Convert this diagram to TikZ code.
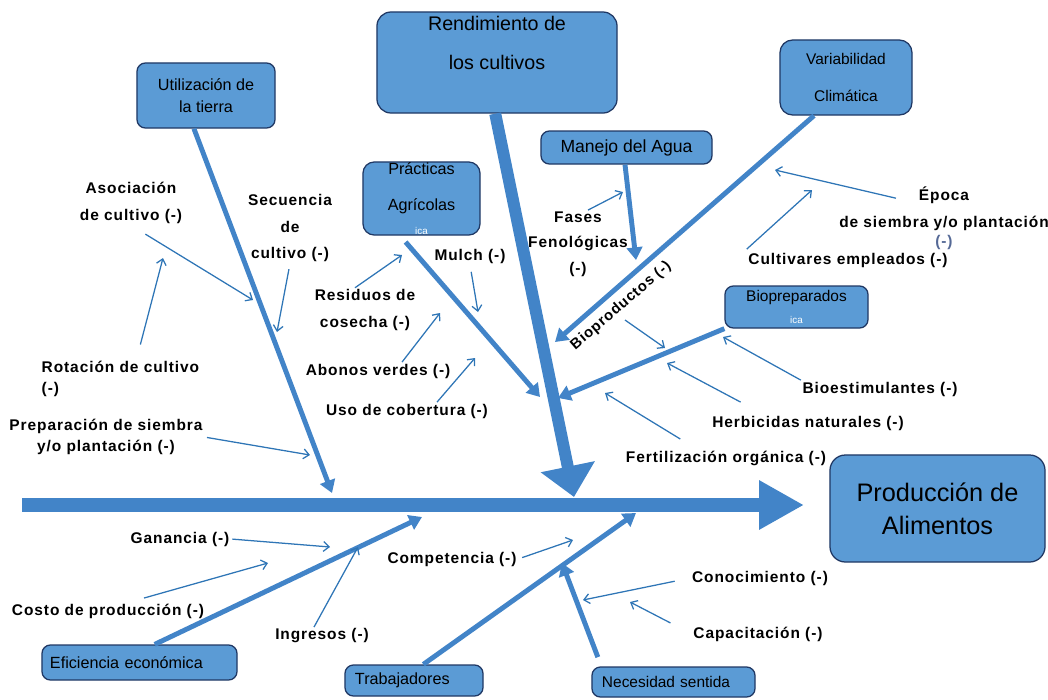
\documentclass[tikz,border=0pt]{standalone}
\usepackage{fontspec}
\setmainfont{Liberation Sans}
\newfontfamily\lblfont[LetterSpace=6]{Liberation Sans}
\usetikzlibrary{arrows.meta}
\definecolor{boxblue}{RGB}{91,155,213}
\definecolor{boxline}{RGB}{32,56,100}
\definecolor{bonecol}{RGB}{66,132,200}
\definecolor{thincol}{RGB}{46,117,182}
\definecolor{minuscol}{RGB}{85,105,150}

\begin{document}
\begin{tikzpicture}[x=0.025cm,y=-0.025cm,
  box/.style={draw=boxline,line width=0.9pt,fill=boxblue,rounded corners=6pt,align=center,inner sep=0pt,font=\fontsize{11.5}{16}\selectfont},
  lbl/.style={font=\fontsize{11}{19}\selectfont\lblfont\bfseries,align=center,inner sep=1pt},
  bone/.style={bonecol,line width=3.5pt,-{Triangle[length=9pt,width=11pt]}},
  fine/.style={thincol,line width=0.9pt,-{Straight Barb[length=4pt,width=7pt]}}]
\useasboundingbox (0,0) rectangle (1048,699);

% boxes
\node[box,minimum width=3.45cm,minimum height=1.625cm] (util) at (206,95.5) {Utilización de\\la tierra};
\node[box,rounded corners=10pt,minimum width=6cm,minimum height=2.525cm,font=\fontsize{14}{27.5}\selectfont] (rend) at (497,62.5) {Rendimiento de\\los cultivos\\\mbox{}};
\node[box,rounded corners=9pt,minimum width=3.3cm,minimum height=1.875cm,font=\fontsize{11}{26}\selectfont] (vari) at (846,77.5) {Variabilidad\\Climática};
\node[box,rounded corners=8pt,minimum width=2.925cm,minimum height=1.825cm,font=\fontsize{11.5}{25.5}\selectfont] (prac) at (421.5,198.5) {Prácticas\\Agrícolas\\[-8.5pt]{\fontsize{7}{8}\selectfont\color{white}ica}};
\node[box,minimum width=4.275cm,minimum height=0.825cm,font=\fontsize{12.5}{16}\selectfont] (agua) at (626.5,147.5) {Manejo del Agua};
\node[box,minimum width=3.575cm,minimum height=1.05cm,font=\fontsize{11}{16}\selectfont] (biop) at (796.5,307) {Biopreparados\\{\fontsize{7}{8}\selectfont\color{white}ica}};
\node[box,rounded corners=11pt,minimum width=5.375cm,minimum height=2.675cm,font=\fontsize{18}{23.5}\selectfont] (prod) at (937.5,508.5) {Producción de\\Alimentos};
\node[box,minimum width=4.875cm,minimum height=0.875cm,inner xsep=0.2cm,text width=4.475cm,align=left] (efic) at (139.5,662.5) {Eficiencia económica};
\node[box,minimum width=3.45cm,minimum height=0.775cm,inner xsep=0.25cm,text width=2.95cm,align=left] (trab) at (414,680.5) {Trabajadores};
\node[box,minimum width=4.075cm,minimum height=0.75cm,inner xsep=0.25cm,text width=3.575cm,align=left,font=\fontsize{11}{16}\selectfont] (nece) at (673.5,682) {Necesidad sentida};

% spine and bones
\coordinate (tail) at (22,505);
\coordinate (head) at (804,505);
\draw[bonecol,line width=10pt,-{Triangle[length=32pt,width=33pt]}] (tail) -- (head);
\coordinate (tipA) at (332,493);
\coordinate (tipB) at (574,497);
\coordinate (tipC) at (555,342);
\coordinate (tipD) at (636,260);
\coordinate (tipE) at (540,397);
\coordinate (tipF) at (558,398);
\coordinate (tipG) at (422,517);
\coordinate (tipH) at (636,513);
\coordinate (tipI) at (562,563);
\draw[bone] (util.250) -- (tipA);
\draw[bone,line width=8.5pt,-{Triangle[length=22pt,width=38pt]}] (rend.268) -- (tipB);
\draw[bone] (vari.230) -- (tipC);
\draw[bone] (agua.265) -- (tipD);
\draw[bone,shorten <=6pt] (prac.240) -- (tipE);
\draw[bone] (biop.south west) -- (tipF);
\draw[bone] (efic.50) -- (tipG);
\draw[bone] (trab.60) -- (tipH);
\draw[bone,shorten <=7pt] ([xshift=0.25cm]nece.north west) -- (tipI);
\node[lbl,rotate=40.8,font=\fontsize{10.5}{12}\selectfont\lblfont\bfseries] (biopro) at (621,306) {Bioproductos (-)};

% Utilización de la tierra
\node[lbl] (asoc) at (131,203) {Asociación\\de cultivo (-)};
\node[lbl] (secu) at (290,228) {Secuencia\\de\\cultivo (-)};
\node[lbl,align=left,anchor=west,font=\fontsize{11}{15}\selectfont\lblfont\bfseries] (rota) at (40,379) {Rotación de cultivo\\(-)};
\node[lbl,font=\fontsize{11}{15.5}\selectfont\lblfont\bfseries] (prep) at (106,437) {Preparación de siembra\\y/o plantación (-)};
\coordinate (a1) at (253,300);
\coordinate (a2) at (277,332);
\coordinate (a3) at (163,258);
\coordinate (a4) at (310,455);
\draw[fine,shorten <=12pt] (asoc.south) -- (a1);
\draw[fine,shorten <=4pt] (secu.south) -- (a2);
\draw[fine,shorten <=11pt] ([xshift=0.4cm]rota.north) -- (a3);
\draw[fine,shorten <=2pt] (prep.east) -- (a4);

% Prácticas agrícolas
\node[lbl] (resi) at (365,310) {Residuos de\\cosecha (-)};
\node[lbl] (mulch) at (470,256) {Mulch (-)};
\node[lbl] (abon) at (378,371) {Abonos verdes (-)};
\node[lbl] (uso) at (407,411) {Uso de cobertura (-)};
\coordinate (a5) at (402,255);
\coordinate (a6) at (478,312);
\coordinate (a7) at (440,313);
\coordinate (a8) at (475,358);
\draw[fine] ([xshift=-0.25cm]resi.north) -- (a5);
\draw[fine,shorten <=5pt] (mulch.south) -- (a6);
\draw[fine] ([xshift=0.6cm]abon.north) -- (a7);
\draw[fine] ([xshift=0.75cm]uso.north) -- (a8);

% Manejo del agua, variabilidad
\node[lbl,font=\fontsize{11}{18}\selectfont\lblfont\bfseries] (fases) at (578,244) {Fases\\Fenológicas\\(-)};
\node[lbl] (epoca) at (944,218) {Época\\de siembra y/o plantación\\[-5.5pt]{\color{minuscol}(-)}};
\node[lbl] (cult) at (848,260) {Cultivares empleados (-)};
\coordinate (a9) at (623,192);
\coordinate (a10) at (775,170);
\coordinate (a11) at (812,190);
\draw[fine] ([xshift=0.25cm]fases.north) -- (a9);
\draw[fine] ([shift={(-1.2cm,-0.33cm)}]epoca.north) -- (a10);
\draw[fine] ([yshift=0.05cm]cult.north west) -- (a11);

% Biopreparados
\node[lbl] (bioe) at (880,389) {Bioestimulantes (-)};
\node[lbl] (herb) at (808,423) {Herbicidas naturales (-)};
\node[lbl] (fert) at (726,458) {Fertilización orgánica (-)};
\coordinate (a12) at (723,337);
\coordinate (a13) at (667,363);
\coordinate (a14) at (605,393);
\coordinate (b1) at (625,320);
\coordinate (b2) at (665,348);
\draw[fine] (bioe.north west) -- (a12);
\draw[fine] ([shift={(0.75cm,0.3cm)}]herb.north west) -- (a13);
\draw[fine] ([shift={(1.4cm,0.25cm)}]fert.north west) -- (a14);
\draw[fine] (b1) -- (b2);

% lower side
\node[lbl] (gana) at (180,539) {Ganancia (-)};
\node[lbl] (costo) at (108,611) {Costo de producción (-)};
\node[lbl] (ingr) at (322,636) {Ingresos (-)};
\node[lbl] (comp) at (452,559) {Competencia (-)};
\node[lbl] (cono) at (760,578) {Conocimiento (-)};
\node[lbl] (capa) at (758,634) {Capacitación (-)};
\coordinate (a15) at (330,547);
\coordinate (a16) at (268,563);
\coordinate (a17) at (358,547);
\coordinate (a18) at (573,540);
\coordinate (a19) at (583,600);
\coordinate (a20) at (630,602);
\draw[fine,shorten <=1pt] (gana.east) -- (a15);
\draw[fine] ([shift={(0.9cm,0.1cm)}]costo.north) -- (a16);
\draw[fine] ([xshift=-0.2cm]ingr.north) -- (a17);
\draw[fine,shorten <=3pt] (comp.east) -- (a18);
\draw[fine,shorten <=0.4cm] (cono.west) -- (a19);
\draw[fine,shorten <=0.6cm] (capa.west) -- (a20);
\end{tikzpicture}
\end{document}
